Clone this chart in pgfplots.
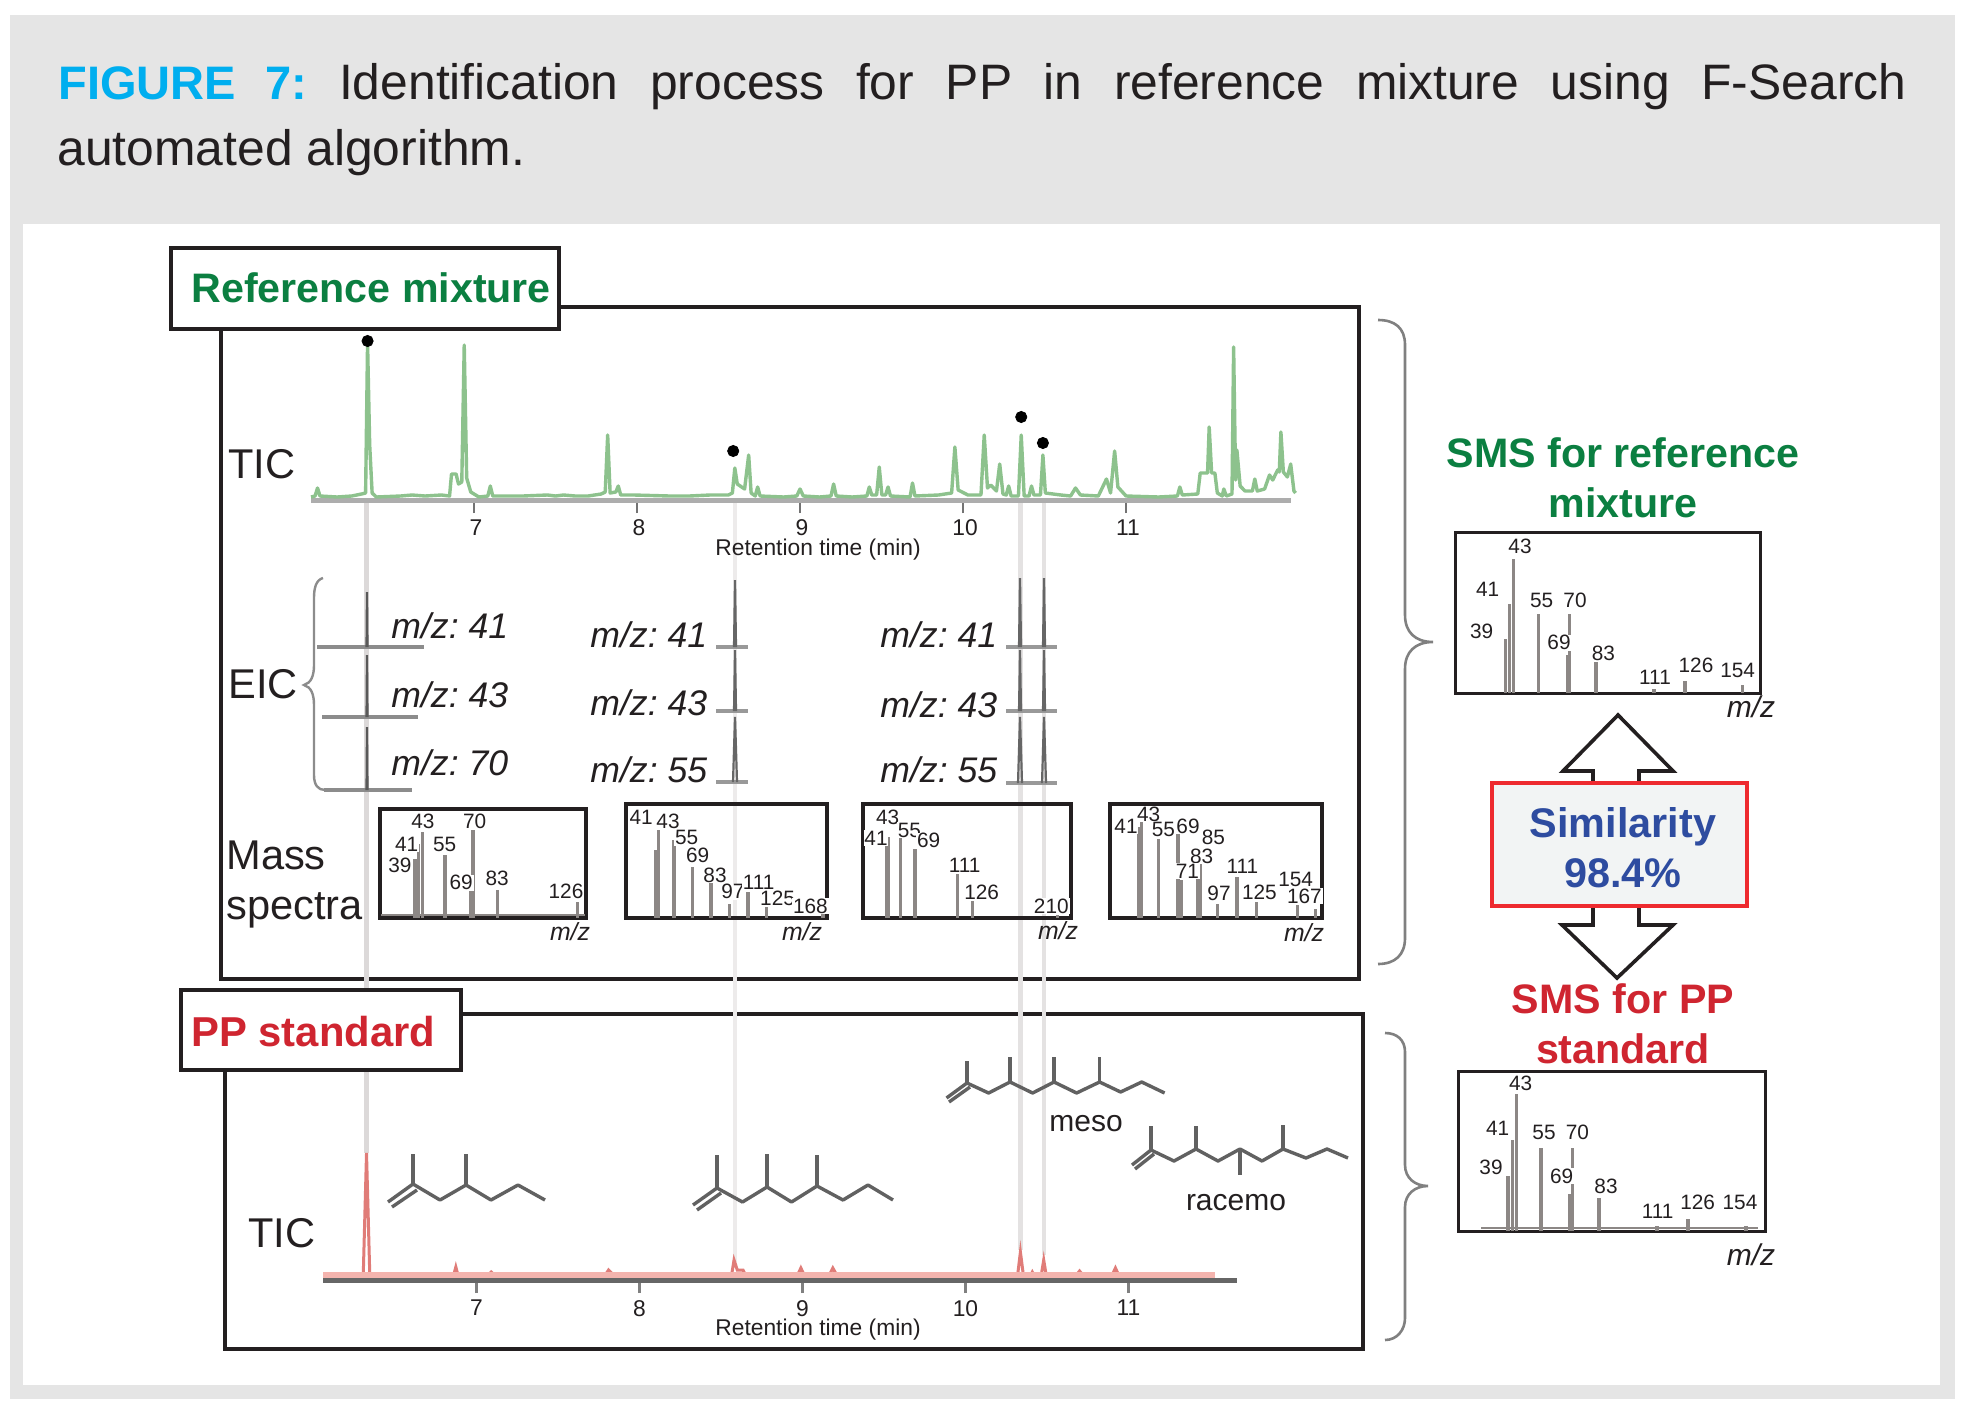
\documentclass[border=0pt]{standalone}
\usepackage{pgfplots}
\pgfplotsset{compat=1.18}
\usepackage{fontspec}
\setmainfont{Liberation Sans}
\frenchspacing
\definecolor{ink}{HTML}{231F20}
\definecolor{figcyan}{HTML}{00AEEF}
\definecolor{refgreen}{HTML}{0B7F41}
\definecolor{ppred}{HTML}{CF2530}
\definecolor{simblue}{HTML}{2E4CA0}
\definecolor{simred}{HTML}{EE2A2F}
\definecolor{tic}{HTML}{8DC28D}
\definecolor{barg}{HTML}{8C8785}
\definecolor{hl}{HTML}{DCD9D9}
\definecolor{hlb}{HTML}{EDEBEB}
\definecolor{hlc}{HTML}{E4E2E2}
\definecolor{pinkbase}{HTML}{F4B4AE}
\definecolor{pinkpeak}{HTML}{E07C78}
\newcommand\fs[1]{\fontsize{#1}{#1}\selectfont}
\newcommand\T[4]{\node[anchor=#2,inner sep=0pt,text=ink,font=\fs{#3}] at #1 {#4};}
\tikzset{lb/.style={fill=white,inner sep=0.4pt,text=ink,font=\fs{10.4}}}
\newcommand\labA[3]{\node[lb] at ({220+#1/2.529},{570+#2/3}) {#3};}
\newcommand\labB[3]{\node[lb] at ({840+#1/3},{570+#2/3}) {#3};}
\newcommand\labC[3]{\node[lb] at ({1380+#1/3},{420+#2/3}) {#3};}
\newcommand\labD[3]{\node[lb] at ({1380+#1/3},{1010+#2/3}) {#3};}
\pgfplotsset{
  AT/.style n args={2}{at={({#1*0.5pt},{-#2*0.5pt})}},
  spec/.style={scale only axis,anchor=south west,ticks=none,ymin=0,
    axis line style={ink,line width=2.2pt},enlargelimits=false},
  sms/.style={spec,axis line style={ink,line width=1.5pt}},
  bar/.style={ycomb,no markers,barg,line width=1.7pt},
  ticaxis/.style={scale only axis,anchor=south west,axis x line=bottom,axis y line=none,
    x axis line style={-},clip=false,ymin=0,
    xtick={7,8,9,10,11},tick align=outside,major tick length=6.5pt,
    xticklabel style={font=\fs{11.4},text=ink,/pgf/number format/assume math mode=true},
  },
}
\begin{document}
\begin{tikzpicture}[x=0.5pt,y=-0.5pt]
\path[use as bounding box] (0,0) rectangle (1968,1412);
\fill[white] (0,0) rectangle (1968,1412);
\fill[black!10] (10,15) rectangle (1955,1399);
\fill[white] (23,224) rectangle (1940,1385);
% frames
\draw[ink,line width=2.2pt] (221,307) rectangle (1359,979);
\draw[ink,line width=2.2pt] (225,1014) rectangle (1363,1349);
% overlay axis in picture pixels: highlights and EIC traces
\begin{axis}[AT={0}{1412},anchor=south west,scale only axis,width=984pt,height=706pt,
  xmin=0,xmax=1968,ymin=0,ymax=1412,y dir=reverse,hide axis,clip=false]
\addplot[hl,line width=2.2pt,no markers] coordinates {(366.5,500)(366.5,1153)};
\addplot[hlb,line width=2.2pt,no markers] coordinates {(735,500)(735,1262)};
\addplot[hlc,line width=2.2pt,no markers] coordinates {(1020.3,500)(1020.3,1250)};
\addplot[hlc,line width=2.2pt,no markers] coordinates {(1044,500)(1044,1255)};
% EIC baselines
\addplot[black!45,line width=2.2pt,no markers] coordinates {(317,647)(424,647)};
\addplot[black!45,line width=2.2pt,no markers] coordinates {(322,717)(418,717)};
\addplot[black!45,line width=2.2pt,no markers] coordinates {(324,790)(412,790)};
\addplot[black!40,line width=2pt,no markers] coordinates {(716,647)(748,647)};
\addplot[black!40,line width=2pt,no markers] coordinates {(716,711)(748,711)};
\addplot[black!40,line width=2pt,no markers] coordinates {(716,782)(748,782)};
\addplot[black!40,line width=2pt,no markers] coordinates {(1006,647)(1057,647)};
\addplot[black!40,line width=2pt,no markers] coordinates {(1006,711)(1057,711)};
\addplot[black!40,line width=2pt,no markers] coordinates {(1006,783)(1057,783)};
% EIC peaks
\addplot[black!65,line width=1.1pt,no markers] coordinates {(366.5,647)(367,592)(367.5,647)};
\addplot[black!65,line width=1.1pt,no markers] coordinates {(366.5,717)(367,655)(367.5,717)};
\addplot[black!65,line width=1.1pt,no markers] coordinates {(366.5,790)(367,727)(367.5,790)};
\addplot[black!60,line width=1.1pt,no markers] coordinates {(734,647)(735,580)(736,647)};
\addplot[black!60,line width=1.1pt,no markers] coordinates {(734,711)(735,650)(736,711)};
\addplot[black!60,line width=1.1pt,no markers] coordinates {(733,782)(735,717)(737,782)};
\addplot[black!60,line width=1.1pt,no markers] coordinates {(1019,647)(1020,578)(1021,647)};
\addplot[black!60,line width=1.1pt,no markers] coordinates {(1043,647)(1044,578)(1045,647)};
\addplot[black!60,line width=1.1pt,no markers] coordinates {(1019,711)(1020,650)(1021,711)};
\addplot[black!60,line width=1.1pt,no markers] coordinates {(1043,711)(1044,650)(1045,711)};
\addplot[black!60,line width=1.1pt,no markers] coordinates {(1018,783)(1020,717)(1022,783)};
\addplot[black!60,line width=1.1pt,no markers] coordinates {(1042,783)(1044,717)(1046,783)};
\end{axis}
% title boxes
\draw[ink,fill=white,line width=2.2pt] (171,248) rectangle (559,329);
\draw[ink,fill=white,line width=2.2pt] (181,990) rectangle (461,1070);
% TIC, reference mixture
\begin{axis}[ticaxis,AT={311}{500},width=490pt,height=85pt,xmin=6,xmax=12.012,ymax=170,
  x axis line style={-,black!32,line width=2.5pt},
  xtick style={black!55,line width=1.4pt},
  xticklabel style={xshift=1pt}]
\addplot[tic,line width=1.7pt,no markers,line join=round] coordinates {
(6.00,3)(6.025,4)(6.04,12)(6.055,4)(6.16,3)(6.25,4)(6.31,6)(6.335,7)(6.347,157)(6.36,55)(6.375,7)(6.40,3)
(6.55,4)(6.62,5)(6.70,4)(6.80,5)(6.85,4)(6.862,26)(6.89,26)(6.905,16)(6.925,18)(6.94,155)(6.955,22)(6.98,8)
(7.03,3)(7.085,4)(7.10,14)(7.115,4)(7.3,4)(7.45,5)(7.5,4)(7.55,5)(7.62,4)(7.70,4)(7.78,6)(7.805,8)(7.82,65)(7.835,7)
(7.87,8)(7.885,14)(7.90,5)(7.98,5)(8.2,4)(8.32,4)(8.45,5)(8.56,5)(8.585,7)(8.60,32)(8.615,16)(8.66,11)
(8.685,45)(8.70,7)(8.725,4)(8.74,13)(8.755,4)(8.9,3)(8.98,4)(9.0,11)(9.02,4)(9.12,3)(9.19,4)(9.206,16)(9.222,4)
(9.32,3)(9.41,4)(9.425,13)(9.44,5)(9.47,5)(9.486,33)(9.502,5)(9.525,5)(9.54,13)(9.555,4)(9.675,3)(9.69,17)(9.705,4)(9.85,5)
(9.93,7)(9.95,53)(9.97,10)(10.03,5)(10.11,5)(10.13,65)(10.15,12)(10.17,15)(10.205,9)(10.225,36)(10.245,6)
(10.265,5)(10.28,14)(10.295,4)(10.34,4)(10.357,65)(10.375,4)(10.405,4)(10.42,14)(10.435,5)(10.475,5)(10.49,45)(10.505,7)(10.6,5)
(10.66,4)(10.69,12)(10.72,5)(10.83,4)(10.88,21)(10.905,7)(10.93,49)(10.95,13)(11.0,4)(11.2,3)(11.315,4)(11.33,13)(11.345,5)
(11.44,6)(11.455,27)(11.50,27)(11.51,73)(11.525,27)(11.545,27)(11.56,7)(11.59,4)(11.6,11)(11.615,4)(11.65,6)
(11.66,153)(11.672,20)(11.68,50)(11.70,14)(11.73,9)(11.775,9)(11.79,21)(11.805,9)(11.85,11)(11.88,25)
(11.90,20)(11.93,30)(11.94,28)(11.95,68)(11.965,28)(11.99,23)(12.01,36)(12.03,9)(12.04,7)};
\addplot[only marks,mark=*,black,mark size=2.8pt] coordinates {(6.347,159)(8.59,49)(10.357,83)(10.49,57)};
\end{axis}
% TIC, PP standard
\begin{axis}[ticaxis,AT={323}{1280},width=457pt,height=65pt,xmin=6.058,xmax=11.666,ymax=130,
  x axis line style={-,black!60,line width=2.5pt},
  xtick style={black!50,line width=1.4pt}]
\addplot[pinkpeak,line width=1.5pt,no markers] coordinates {
(6.06,5)(6.305,5)(6.325,127)(6.345,5)(6.86,5)(6.873,13)(6.886,5)(7.07,5)(7.09,8)(7.11,5)(7.79,5)(7.81,10)(7.84,5)
(8.565,5)(8.58,20)(8.60,10)(8.635,10)(8.65,5)(8.97,5)(8.99,12)(9.01,5)(9.165,5)(9.186,12)(9.21,5)
(10.32,5)(10.337,28)(10.355,5)(10.40,5)(10.41,8)(10.42,5)(10.465,5)(10.48,20)(10.495,5)(10.68,5)(10.70,9)(10.72,5)
(10.90,5)(10.92,12)(10.94,5)(11.53,5)};
\addplot[pinkbase,line width=3pt,no markers] coordinates {(6.058,5)(11.53,5)};
\end{axis}
% mass spectra
\begin{axis}[spec,AT={380}{918},width=103pt,height=54.5pt,xmin=20.3,xmax=130.5,ymax=109]
\addplot[bar] coordinates {(39,59)(41,74)(43,86)(55,63)(69,28)(70,88)(83,28)(126,16)};
\addplot[barg,line width=0.8pt,no markers] coordinates {(21,3)(130,3)};
\end{axis}
\begin{axis}[spec,AT={626}{918},width=100.5pt,height=57pt,xmin=18.6,xmax=170.9,ymax=114]
\addplot[bar] coordinates {(41,68)(43,101)(55,78)(69,51)(83,36)(97,14)(111,26)(125,11)(168,8)};
\end{axis}
\begin{axis}[spec,AT={863}{918},width=104pt,height=57pt,xmin=17.7,xmax=223.3,ymax=114]
\addplot[bar] coordinates {(41,81)(43,81)(55,81)(69,69)(111,44)(126,17)(210,3)};
\end{axis}
\begin{axis}[spec,AT={1110}{918},width=106pt,height=57pt,xmin=20.6,xmax=171.5,ymax=114]
\addplot[bar] coordinates {(41,91)(43,96)(55,79)(69,84)(71,38)(83,51)(85,54)(97,14)(111,41)(125,16)(154,13)(167,9)};
\end{axis}
\begin{axis}[sms,AT={1455}{693},width=152.5pt,height=80.5pt,xmin=14.6,xmax=162.4,ymax=161]
\addplot[bar] coordinates {(39,54)(41,89)(43,134)(55,79)(69,38)(70,79)(83,31)(111,4)(126,12)(154,8)};
\end{axis}
\begin{axis}[sms,AT={1458}{1231},width=153.5pt,height=80pt,xmin=14.8,xmax=163.2,ymax=160]
\addplot[bar] coordinates {(39,55)(41,91)(43,137)(55,83)(69,37)(70,83)(83,33)(111,5)(126,12)(154,5)};
\addplot[barg,line width=0.8pt,no markers] coordinates {(26,3)(160,3)};
\end{axis}
% spectrum labels
\labA{455}{885}{39}\labA{472}{822}{41}\labA{513}{755}{43}\labA{568}{822}{55}\labA{610}{938}{69}\labA{644}{755}{70}\labA{701}{925}{83}\labA{875}{965}{126}
\labA{1065}{742}{41}\labA{1133}{755}{43}\labA{1180}{803}{55}\labA{1208}{857}{69}\labA{1252}{915}{83}\labA{1297}{965}{97}\labA{1362}{938}{111}\labA{1410}{985}{125}\labA{1493}{1008}{168}
\labB{108}{805}{41}\labB{143}{742}{43}\labB{208}{780}{55}\labB{266}{812}{69}\labB{374}{885}{111}\labB{425}{967}{126}\labB{634}{1008}{210}
\labB{858}{768}{41}\labB{926}{732}{43}\labB{970}{778}{55}\labB{1044}{768}{69}\labB{1120}{802}{85}\labB{1085}{858}{83}\labB{1042}{903}{71}\labB{1207}{888}{111}\labB{1137}{970}{97}\labB{1258}{967}{125}\labB{1367}{928}{154}\labB{1393}{978}{167}
\labC{420}{378}{43}\labC{323}{508}{41}\labC{305}{635}{39}\labC{485}{540}{55}\labC{585}{540}{70}\labC{537}{668}{69}\labC{670}{700}{83}\labC{825}{772}{111}\labC{948}{735}{126}\labC{1073}{750}{154}
\labD{422}{220}{43}\labD{353}{355}{41}\labD{333}{472}{39}\labD{492}{368}{55}\labD{592}{368}{70}\labD{545}{498}{69}\labD{678}{528}{83}\labD{833}{603}{111}\labD{953}{578}{126}\labD{1080}{578}{154}
\node[font=\fs{12.4}\itshape,text=ink,inner sep=0] at (570,932) {m/z};
\node[font=\fs{12.4}\itshape,text=ink,inner sep=0] at (802,932) {m/z};
\node[font=\fs{12.4}\itshape,text=ink,inner sep=0] at (1058,931) {m/z};
\node[font=\fs{12.4}\itshape,text=ink,inner sep=0] at (1304,933) {m/z};
\node[font=\fs{15}\itshape,text=ink,inner sep=0] at (1751,707) {m/z};
\node[font=\fs{15}\itshape,text=ink,inner sep=0] at (1751,1255) {m/z};
% braces
\draw[black!50,line width=1.3pt] (1378,320) .. controls (1395,320) and (1405,328) .. (1405,345) -- (1405,615) .. controls (1405,632) and (1415,642) .. (1433,642) .. controls (1415,642) and (1405,652) .. (1405,669) -- (1405,938) .. controls (1405,955) and (1395,964) .. (1378,964);
\draw[black!50,line width=1.3pt] (1385,1033) .. controls (1397,1033) and (1405,1040) .. (1405,1052) -- (1405,1165) .. controls (1405,1178) and (1415,1186) .. (1428,1186) .. controls (1415,1186) and (1405,1194) .. (1405,1207) -- (1405,1318) .. controls (1405,1330) and (1397,1340) .. (1385,1340);
\draw[black!45,line width=1.2pt] (323,578) .. controls (316,580) and (314,588) .. (314,598) -- (314,665) .. controls (314,676) and (311,683) .. (304,685) .. controls (311,687) and (314,694) .. (314,705) -- (314,775) .. controls (314,785) and (318,790) .. (325,790);
% molecules
\tikzset{mol/.style={draw=black!62,line width=1.7pt,line join=round}}
\draw[mol] (388,1202)--(413,1184)--(440,1200)--(466,1185)--(491,1200)--(518,1185)--(545,1200);
\draw[mol] (392,1207)--(417,1190);
\draw[mol] (413,1184)--(413,1154) (466,1185)--(466,1154);
\draw[mol] (693,1205)--(717,1188)--(742.5,1202)--(767,1187)--(791.5,1202)--(817,1186)--(843,1200)--(868,1185)--(893,1200);
\draw[mol] (697,1210)--(721,1193);
\draw[mol] (717,1188)--(717,1155) (767,1187)--(767,1154) (817,1186)--(817,1155);
\draw[mol] (946.5,1098)--(967,1083)--(988.6,1093)--(1010,1082)--(1032.6,1093)--(1054,1082)--(1076.6,1093)--(1099.6,1082)--(1120.6,1092)--(1141.7,1082)--(1164.6,1093);
\draw[mol] (949,1102)--(970,1087);
\draw[mol] (967,1083)--(967,1061) (1010,1082)--(1010,1057) (1054,1082)--(1054,1057) (1099.6,1082)--(1099.6,1057);
\draw[mol] (1132,1165)--(1151,1150)--(1174,1161)--(1196,1149)--(1218,1161)--(1240,1149)--(1262,1161)--(1283,1149)--(1306,1158)--(1327,1149)--(1348,1158);
\draw[mol] (1135,1169)--(1154,1154);
\draw[mol] (1151,1150)--(1151,1126) (1196,1149)--(1196,1126) (1283,1149)--(1283,1125) (1240,1149)--(1240,1175);
% arrows and similarity box
\draw[ink,line width=1.8pt,fill=white,line join=miter] (1593,783)--(1593,771)--(1563,771)--(1618,715)--(1673,771)--(1639,771)--(1639,783);
\draw[ink,line width=1.8pt,fill=white,line join=miter] (1593,906)--(1593,925)--(1562,925)--(1617,978)--(1673,925)--(1639,925)--(1639,906);
\definecolor{simfill}{HTML}{F2F4F4}
\draw[simred,fill=simfill,line width=1.6pt] (1492,783) rectangle (1747,906);
% text
\node[anchor=base west,inner sep=0pt,text=ink,font=\fs{24.9}] at (58,100) {\hbox to 924pt{\textcolor{figcyan}{\fs{23.5}\bfseries FIGURE 7:} Identification process for PP in reference mixture using F-Search}};
\node[anchor=base west,inner sep=0pt,text=ink,font=\fs{24.9}] at (57,166) {automated algorithm.};
\node[anchor=base west,inner sep=0pt,text=refgreen,font=\fs{20.6}\bfseries] at (191,302) {Reference mixture};
\node[anchor=base west,inner sep=0pt,text=ppred,font=\fs{20.9}\bfseries] at (191,1046) {PP standard};
\T{(228,478)}{base west}{20.8}{TIC}
\T{(248,1247)}{base west}{20.8}{TIC}
\T{(228,698)}{base west}{20.8}{EIC}
\T{(226,869)}{base west}{20.8}{Mass}
\T{(226,919)}{base west}{20.8}{spectra}
\T{(818,555)}{base}{11.4}{Retention time (min)}
\T{(818,1335)}{base}{11.4}{Retention time (min)}
\T{(1086,1131)}{base}{15}{meso}
\T{(1236,1210)}{base}{15}{racemo}
\T{(391,638)}{base west}{17.8}{\itshape m/z: 41}
\T{(391,707)}{base west}{17.8}{\itshape m/z: 43}
\T{(391,775)}{base west}{17.8}{\itshape m/z: 70}
\T{(590,647)}{base west}{17.8}{\itshape m/z: 41}
\T{(590,715)}{base west}{17.8}{\itshape m/z: 43}
\T{(590,782)}{base west}{17.8}{\itshape m/z: 55}
\T{(880,647)}{base west}{17.8}{\itshape m/z: 41}
\T{(880,717)}{base west}{17.8}{\itshape m/z: 43}
\T{(880,782)}{base west}{17.8}{\itshape m/z: 55}
\node[anchor=base,inner sep=0pt,text=refgreen,font=\fs{20.6}\bfseries] at (1623,467) {SMS for reference};
\node[anchor=base,inner sep=0pt,text=refgreen,font=\fs{20.6}\bfseries] at (1623,517) {mixture};
\node[anchor=base,inner sep=0pt,text=ppred,font=\fs{20.6}\bfseries] at (1623,1013) {SMS for PP};
\node[anchor=base,inner sep=0pt,text=ppred,font=\fs{20.6}\bfseries] at (1623,1063) {standard};
\node[anchor=base,inner sep=0pt,text=simblue,font=\fs{20.7}\bfseries] at (1623,837) {Similarity};
\node[anchor=base,inner sep=0pt,text=simblue,font=\fs{20.7}\bfseries] at (1623,887) {98.4\%};
\end{tikzpicture}
\end{document}
